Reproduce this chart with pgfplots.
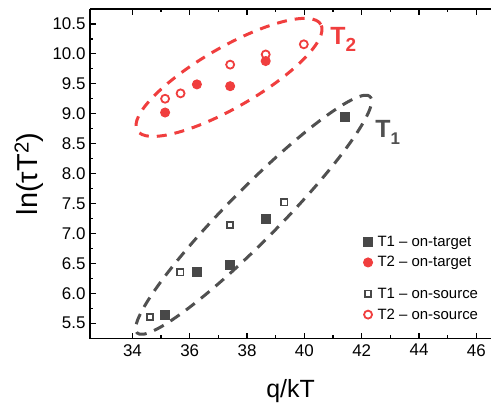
\documentclass[border=0pt]{standalone}
\usepackage{fontspec}
\setmainfont{Liberation Sans}
\usepackage{pgfplots}
\pgfplotsset{compat=1.18}
\definecolor{tgray}{RGB}{72,72,72}
\definecolor{egray}{RGB}{80,80,80}
\definecolor{tred}{RGB}{240,62,62}
\begin{document}
\begin{tikzpicture}
\useasboundingbox (-90bp,-67.3bp) rectangle (401bp,338.7bp);
\begin{axis}[
  scale only axis, width=401bp, height=329.7bp,
  xmin=32.52, xmax=46.51, ymin=5.24, ymax=10.75,
  axis x line=box, axis y line=left, y axis line style={-},
  axis line style={line width=1.5bp},
  xtick={34,36,...,46}, minor x tick num=1,
  ytick={5.5,6,...,10.5}, minor y tick num=1,
  yticklabel style={xshift=-1bp, /pgf/number format/.cd,fixed,fixed zerofill,precision=1},
  xticklabel style={yshift=-2bp},
  /pgf/number format/assume math mode=true,
  tick align=inside,
  major tick length=6bp, minor tick length=3.5bp,
  every tick/.style={black, line width=1.2bp},
  tick label style={font=\fontsize{17}{20}\selectfont},
  xlabel={q/kT}, ylabel={ln(τT\textsuperscript{2})},
  every axis x label/.style={at={(rel axis cs:0.5,0)}, anchor=center, yshift=-52bp, font=\fontsize{25}{30}\selectfont},
  every axis y label/.style={at={(rel axis cs:0,0.5)}, rotate=90, anchor=center, yshift=61bp, font=\fontsize{29}{34}\selectfont},
  legend style={draw=none, fill=none, at={(0.668,0.325)}, anchor=north west, font=\fontsize{15}{18}\selectfont, row sep=5bp},
  legend cell align=left,
  legend image code/.code={\draw[mark repeat=2,mark phase=2,#1] plot coordinates {(0bp,0bp)(7bp,0bp)(14bp,0bp)};},
]
\draw[egray, line width=3bp, dash pattern=on 11bp off 8bp, rotate around={45.4:(axis cs:38.23,7.311)}] (axis cs:38.23,7.311) ellipse [x radius=166bp, y radius=26bp];
\draw[tred, line width=3bp, dash pattern=on 10bp off 8bp, rotate around={30:(axis cs:37.37,9.607)}] (axis cs:37.37,9.607) ellipse [x radius=106bp, y radius=30bp];

\addplot[only marks, mark=square*, mark size=4.5bp, mark options={fill=tgray, draw=tgray, line width=1bp}] coordinates {
(35.14,5.63) (36.26,6.35) (37.41,6.48) (38.65,7.24) (41.43,8.94)};
\addlegendentry{\hspace{3bp}T1 – on-target}
\addplot[only marks, mark=*, mark size=4.5bp, mark options={fill=tred, draw=tred, line width=1bp}] coordinates {
(35.14,9.02) (36.25,9.49) (37.41,9.46) (38.65,9.88)};
\addlegendentry{\hspace{3bp}T2 – on-target}
\addlegendimage{empty legend}
\addlegendentry{}
\addplot[only marks, mark=square, mark size=3.2bp, mark options={fill=white, draw=tgray, line width=1.8bp}] coordinates {
(34.62,5.60) (35.67,6.35) (37.41,7.14) (39.30,7.52)};
\addlegendentry{\hspace{3bp}T1 – on-source}
\addplot[only marks, mark=o, mark size=4bp, mark options={fill=white, draw=tred, line width=1.8bp}] coordinates {
(35.14,9.25) (35.68,9.34) (37.41,9.82) (38.65,9.99) (39.98,10.16)};
\addlegendentry{\hspace{3bp}T2 – on-source}

\node[anchor=base west, text=tred, font=\bfseries\fontsize{25}{30}\selectfont, inner sep=0pt] at (axis cs:40.90,10.15) {T\raisebox{-7bp}{\fontsize{19}{22}\selectfont 2}};
\node[anchor=base west, text=egray, font=\bfseries\fontsize{25}{30}\selectfont, inner sep=0pt] at (axis cs:42.47,8.597) {T\raisebox{-7bp}{\fontsize{17}{20}\selectfont 1}};
\end{axis}
\end{tikzpicture}
\end{document}
